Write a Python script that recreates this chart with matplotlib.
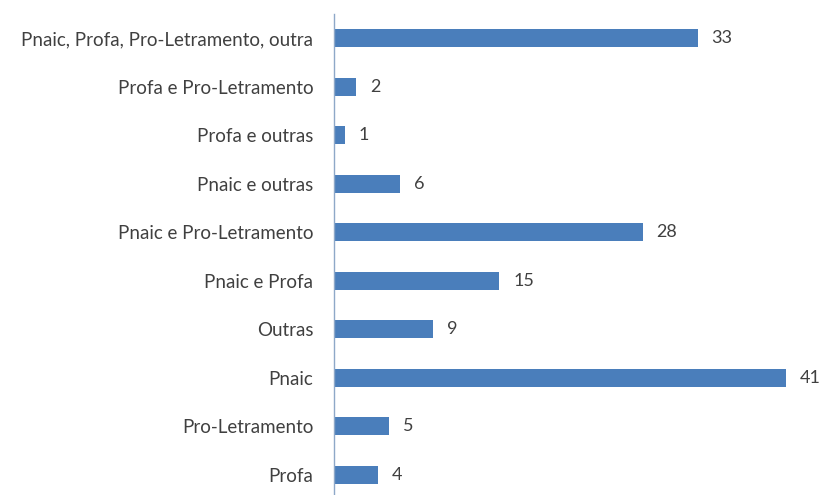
import matplotlib
matplotlib.use("Agg")
import matplotlib.pyplot as plt

categorias = ["Profa", "Pro-Letramento", "Pnaic", "Outras", "Pnaic e Profa",
              "Pnaic e Pro-Letramento", "Pnaic e outras", "Profa e outras",
              "Profa e Pro-Letramento", "Pnaic, Profa, Pro-Letramento, outra"]
valores = [4, 5, 41, 9, 15, 28, 6, 1, 2, 33]

plt.rcParams['font.family'] = ['Lato', 'DejaVu Sans']

fig = plt.figure(figsize=(8.2, 4.95), dpi=100)
ax = fig.add_axes([334 / 820, -4 / 495, 486 / 820, 485 / 495])

pos = range(len(categorias))
ax.barh(pos, valores, height=0.37, color="#4a7ebb")
ax.set_ylim(-0.5, len(categorias) - 0.5)
ax.set_xlim(0, 44.1)

ax.set_yticks(list(pos), labels=categorias, fontsize=13.5, color="#404040")
ax.tick_params(axis='y', length=0, pad=15)
ax.set_xticks([])

for s in ['top', 'right', 'bottom']:
    ax.spines[s].set_visible(False)
ax.spines['left'].set_color("#8ea8c8")
ax.spines['left'].set_linewidth(1)

for p, v in zip(pos, valores):
    ax.annotate(str(v), (v, p), xytext=(10, 0), textcoords='offset points',
                va='center', ha='left', fontsize=13, color="#404040")

fig.savefig("out.png", dpi=100)
